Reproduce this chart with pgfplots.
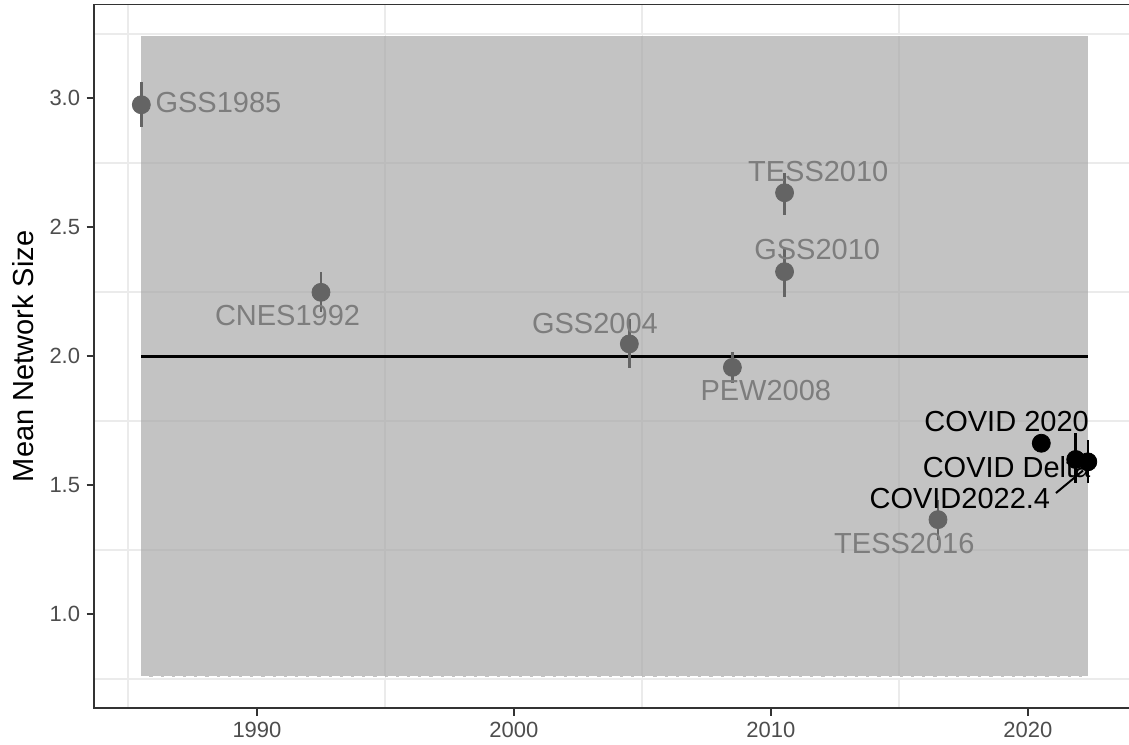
\documentclass[border=0pt]{standalone}
\usepackage{pgfplots}
\pgfplotsset{compat=1.18}
\usepackage{fontspec}
\setmainfont{Liberation Sans}
\usetikzlibrary{calc}
\definecolor{gridc}{RGB}{235,235,235}
\definecolor{bandc}{RGB}{163,163,163}
\definecolor{ptgrey}{RGB}{100,100,100}
\definecolor{lblgrey}{RGB}{125,125,125}
\definecolor{axc}{RGB}{51,51,51}
\definecolor{tickc}{RGB}{77,77,77}
\begin{document}
\begin{tikzpicture}
\begin{axis}[
  name=ax,
  scale only axis,
  width=520.7pt, height=351.9pt,
  xmin=1983.658, xmax=2024.182,
  ymin=0.636, ymax=3.364,
  xtick={1990,2000,2010,2020},
  ytick={1.0,1.5,2.0,2.5,3.0},
  minor xtick={1985,1995,2005,2015},
  minor ytick={0.75,1.25,1.75,2.25,2.75,3.25},
  xminorgrids, yminorgrids,
  minor grid style={gridc, line width=1pt},
  minor tick length=0pt,
  tick align=outside,
  major tick length=3.75pt,
  xtick pos=left, ytick pos=left,
  tick style={axc, line width=1pt},
  axis line style={axc, line width=0.8pt},
  tick label style={font=\fontsize{11}{13}\selectfont, color=tickc},
  /pgf/number format/assume math mode=true,
  xticklabel style={/pgf/number format/1000 sep={}, inner sep=3pt},
  yticklabel style={/pgf/number format/fixed, /pgf/number format/fixed zerofill, /pgf/number format/precision=1, inner sep=3pt},
  every axis y label/.style={at={(rel axis cs:0,0.5)}, anchor=center, xshift=-35.5pt, rotate=90},
  ylabel={Mean Network Size},
  label style={font=\fontsize{14.5}{17}\selectfont},
]
% shaded band
\addplot[draw=none, fill=bandc, fill opacity=0.65] coordinates {(1985.5,0.757) (2022.34,0.757) (2022.34,3.243) (1985.5,3.243)} -- cycle;
\addplot[white, line width=0.6pt, dash pattern=on 4pt off 1.6pt] coordinates {(1985.5,3.243) (2022.34,3.243)};
\addplot[white, line width=0.6pt, dash pattern=on 4pt off 1.6pt] coordinates {(1985.5,0.757) (2022.34,0.757)};
% reference line
\addplot[black, line width=1.25pt] coordinates {(1985.5,2.0) (2022.34,2.0)};
% earlier surveys
\addplot[only marks, mark=*, mark size=4.5pt, color=ptgrey, mark options={fill=ptgrey, draw=none},
  error bars/.cd, y dir=both, y explicit, error mark=none,
  error bar style={line width=1.3pt, ptgrey}] coordinates {
  (1985.5,2.975) += (0,0.089) -= (0,0.085)
  (1992.49,2.248) += (0,0.080) -= (0,0.076)
  (2004.49,2.048) += (0,0.095) -= (0,0.095)
  (2008.50,1.957) += (0,0.061) -= (0,0.061)
  (2010.53,2.634) += (0,0.075) -= (0,0.086)
  (2010.53,2.328) += (0,0.091) -= (0,0.097)
  (2016.50,1.367) += (0,0.075) -= (0,0.078)
};
% COVID surveys
\addplot[only marks, mark=*, mark size=4.5pt, color=black, mark options={fill=black, draw=none},
  error bars/.cd, y dir=both, y explicit, error mark=none,
  error bar style={line width=1.3pt, black}] coordinates {
  (2020.52,1.663) += (0,0.0) -= (0,0.0)
  (2021.86,1.600) += (0,0.103) -= (0,0.091)
  (2022.33,1.591) += (0,0.085) -= (0,0.082)
};
% leader segment
\addplot[black, line width=1pt] coordinates {(2021.09,1.470) (2022.14,1.557)};
% labels
\begin{scope}[every node/.style={font=\fontsize{14.5}{17}\selectfont}]
\node[lblgrey] at (axis cs:1988.50,2.985) {GSS1985};
\node[lblgrey] at (axis cs:1991.19,2.158) {CNES1992};
\node[lblgrey] at (axis cs:2003.15,2.129) {GSS2004};
\node[lblgrey] at (axis cs:2009.80,1.868) {PEW2008};
\node[lblgrey] at (axis cs:2011.84,2.716) {TESS2010};
\node[lblgrey] at (axis cs:2011.80,2.412) {GSS2010};
\node[lblgrey] at (axis cs:2015.19,1.276) {TESS2016};
\node[black] at (axis cs:2019.17,1.747) {COVID 2020};
\node[black] at (axis cs:2019.17,1.572) {COVID Delta};
\node[black] at (axis cs:2017.35,1.450) {COVID2022.4};
\end{scope}
\end{axis}
\pgfresetboundingbox
\path[use as bounding box] ($(ax.south west)+(-47pt,-17.9pt)$) rectangle ($(ax.south west)+(517.5pt,354.1pt)$);
\end{tikzpicture}
\end{document}
